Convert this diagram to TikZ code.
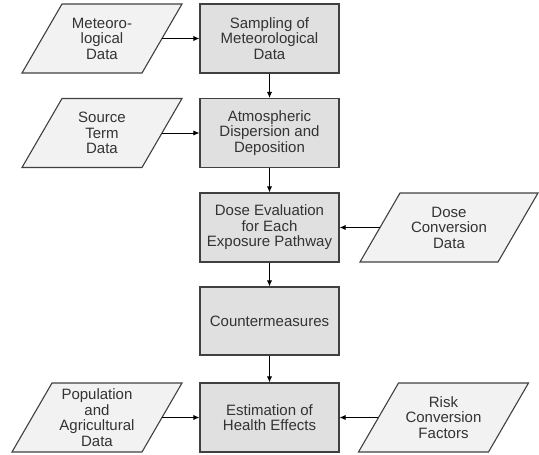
\documentclass[tikz,border=0pt]{standalone}
\usepackage{fontspec}
\setmainfont{Liberation Sans}
\usetikzlibrary{arrows.meta}
\definecolor{boxfill}{HTML}{E0E0E0}
\definecolor{parafill}{HTML}{F2F2F2}
\definecolor{edge}{HTML}{404040}
\definecolor{txt}{HTML}{333333}
\tikzset{
  procbox/.style={draw=edge, line width=1.1pt, fill=boxfill, minimum width=139pt, minimum height=69pt,
    align=center, inner sep=1pt, text=txt, font=\fontsize{15}{15.5}\selectfont},
  datatext/.style={minimum height=69pt, align=center, inner sep=1pt, text=txt,
    font=\fontsize{15}{15.5}\selectfont},
  datashape/.style={draw=edge, line width=1.1pt, fill=parafill},
  flow/.style={-{Latex[length=6pt,width=5pt]}, line width=0.8pt, black}
}
\newcommand\datanode[5]{%
  \path[datashape] ({#2-#4/2+20},{#3-34.5}) -- ({#2+#4/2+20},{#3-34.5})
     -- ({#2+#4/2-20},{#3+34.5}) -- ({#2-#4/2-20},{#3+34.5}) -- cycle;
  \node[datatext, minimum width=#4pt] (#1) at (#2,#3) {#5};
}
\begin{document}
\begin{tikzpicture}[x=1pt,y=-1pt]
\useasboundingbox (0,0) rectangle (539,455);
% process boxes
\node[procbox] (samp) at (269.5,38.5) {Sampling of\\Meteorological\\Data};
\node[procbox] (atm)  at (269.5,133) {Atmospheric\\Dispersion and\\Deposition};
\node[procbox] (dose) at (269.5,227.5) {Dose Evaluation\\for Each\\Exposure Pathway};
\node[procbox, minimum height=68pt] (cm) at (269.5,321) {Countermeasures};
\node[procbox] (est)  at (269.5,417.5) {Estimation of\\Health Effects};
% data nodes
\datanode{met}{102}{38.5}{120}{Meteoro-\\logical\\Data}
\datanode{src}{102}{133}{120}{Source\\Term\\Data}
\datanode{dcd}{449}{227.5}{138}{Dose\\Conversion\\Data}
\datanode{pop}{97}{417.5}{130}{Population\\and\\Agricultural\\Data}
\datanode{risk}{443.5}{417.5}{130}{Risk\\Conversion\\Factors}
% connectors
\draw[flow] (met.east) -- (samp.west);
\draw[flow] (src.east) -- (atm.west);
\draw[flow] (dcd.west) -- (dose.east);
\draw[flow] (pop.east) -- (est.west);
\draw[flow] (risk.west) -- (est.east);
\draw[flow] (samp.south) -- (atm.north);
\draw[flow] (atm.south) -- (dose.north);
\draw[flow] (dose.south) -- (cm.north);
\draw[flow] (cm.south) -- (est.north);
\end{tikzpicture}
\end{document}
